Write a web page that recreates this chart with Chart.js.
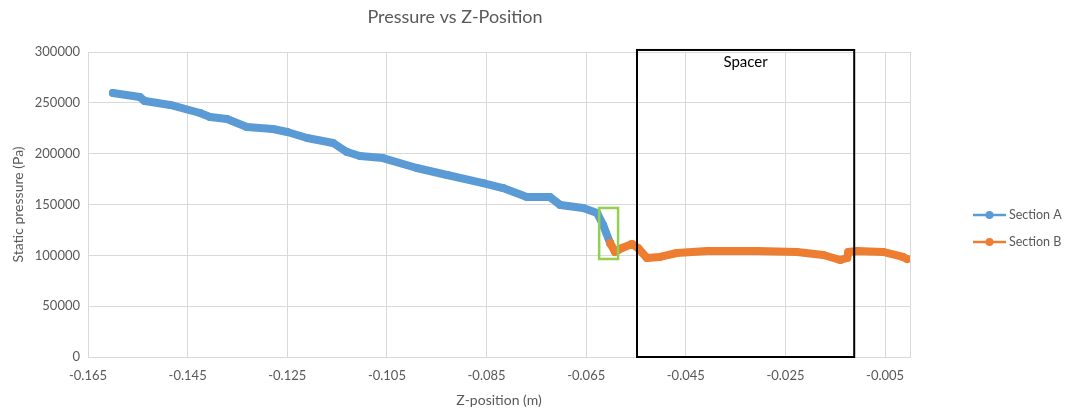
<!DOCTYPE html>
<html>
<head>
<meta charset="utf-8">
<title>Pressure vs Z-Position</title>
<script src="https://cdn.jsdelivr.net/npm/chart.js@4/dist/chart.umd.min.js"></script>
<style>
  html, body { margin: 0; padding: 0; background: #ffffff; }
  #wrap { width: 1070px; height: 412px; }
</style>
</head>
<body>
<div id="wrap"><canvas id="chart" width="1070" height="412"></canvas></div>
<script>
// Section A: upstream part of the channel (z in m, static pressure in Pa)
const sectionAZ = [-0.1600, -0.1546, -0.1536, -0.1485, -0.1425, -0.1405, -0.1371, -0.1331, -0.1279,
  -0.1250, -0.1210, -0.1158, -0.1130, -0.1104, -0.1058, -0.0990, -0.0929, -0.0857, -0.0817,
  -0.0769, -0.0723, -0.0702, -0.0656, -0.0628, -0.0616, -0.0602];
const sectionAP = [259700, 255700, 251800, 247900, 240000, 236100, 234100, 226200, 224300,
  221300, 215400, 210500, 201600, 197700, 195700, 185900, 179000, 171100, 166200,
  157400, 157400, 149500, 146600, 141600, 129800, 112100];

// Section B: through the spacer and beyond
const sectionBZ = [-0.0602, -0.0592, -0.0578, -0.0558, -0.0546, -0.0528, -0.0502, -0.0468, -0.0407,
  -0.0307, -0.0227, -0.0174, -0.0140, -0.0126, -0.0124, -0.0106, -0.0054, -0.0014, -0.0006];
const sectionBP = [112100, 103300, 107200, 111100, 107200, 97400, 98400, 102300, 104300,
  104300, 103300, 100300, 95400, 97400, 103300, 104300, 103300, 98400, 96400];

// Axis ticks
const xTicks = [-0.165, -0.145, -0.125, -0.105, -0.085, -0.065, -0.045, -0.025, -0.005, 0];
const yTicks = [0, 50000, 100000, 150000, 200000, 250000, 300000];

// Highlight regions [zMin, zMax, pMin, pMax]
const spacerRegion = [-0.0548, -0.0112, 0, 302000];
const transitionRegion = [-0.0624, -0.0586, 96400, 146600];

const seriesNames = ['Section A', 'Section B'];
const seriesColors = ['#5B9BD5', '#ED7D31'];

const toPoints = (zs, ps) => zs.map((z, i) => ({ x: z, y: ps[i] }));

const FONT = 'Lato, "Open Sans", sans-serif';
const GREY = '#595959';

const regionsPlugin = {
  id: 'regions',
  afterDatasetsDraw(chart) {
    const { ctx, scales: { x, y } } = chart;
    const box = (r, color, width) => {
      const x0 = x.getPixelForValue(r[0]), x1 = x.getPixelForValue(r[1]);
      const y0 = y.getPixelForValue(r[3]), y1 = y.getPixelForValue(r[2]);
      ctx.save();
      ctx.strokeStyle = color;
      ctx.lineWidth = width;
      ctx.strokeRect(x0, y0, x1 - x0, y1 - y0);
      ctx.restore();
      return { x0, x1, y0, y1 };
    };
    box(transitionRegion, '#92D050', 2.5);
    const s = box(spacerRegion, '#000000', 2);
    ctx.save();
    ctx.fillStyle = '#000000';
    ctx.font = '15px ' + FONT;
    ctx.textAlign = 'center';
    ctx.textBaseline = 'middle';
    ctx.fillText('Spacer', (s.x0 + s.x1) / 2, s.y0 + 12);
    ctx.restore();
  }
};

const sideLegendPlugin = {
  id: 'sideLegend',
  afterDraw(chart) {
    const { ctx } = chart;
    const left = 973, rows = [215, 242];
    chart.data.datasets.forEach((ds, i) => {
      const yy = rows[i];
      ctx.save();
      ctx.strokeStyle = ds.borderColor;
      ctx.lineWidth = 2.5;
      ctx.beginPath();
      ctx.moveTo(left, yy);
      ctx.lineTo(left + 33, yy);
      ctx.stroke();
      ctx.fillStyle = ds.borderColor;
      ctx.beginPath();
      ctx.arc(left + 16.5, yy, 4, 0, Math.PI * 2);
      ctx.fill();
      ctx.fillStyle = GREY;
      ctx.font = '12.5px ' + FONT;
      ctx.textAlign = 'left';
      ctx.textBaseline = 'middle';
      ctx.fillText(ds.label, left + 36, yy);
      ctx.restore();
    });
  }
};

new Chart(document.getElementById('chart'), {
  type: 'line',
  data: {
    datasets: [
      {
        label: seriesNames[0],
        data: toPoints(sectionAZ, sectionAP),
        borderColor: seriesColors[0],
        backgroundColor: seriesColors[0],
        borderWidth: 8,
        pointRadius: 4,
        pointBorderWidth: 0,
        borderCapStyle: 'round',
        borderJoinStyle: 'round',
        order: 1
      },
      {
        label: seriesNames[1],
        data: toPoints(sectionBZ, sectionBP),
        borderColor: seriesColors[1],
        backgroundColor: seriesColors[1],
        borderWidth: 8,
        pointRadius: 4,
        pointBorderWidth: 0,
        borderCapStyle: 'round',
        borderJoinStyle: 'round',
        order: 0
      }
    ]
  },
  options: {
    responsive: false,
    animation: false,
    layout: { padding: { left: 0, right: 160, top: 0, bottom: 0 } },
    plugins: {
      legend: { display: false },
      tooltip: { enabled: false },
      title: {
        display: true,
        text: 'Pressure vs Z-Position',
        color: GREY,
        font: { family: FONT, size: 18, weight: 'normal' },
        padding: { top: 6, bottom: 24.4 }
      }
    },
    scales: {
      x: {
        type: 'linear',
        min: -0.165,
        max: 0,
        afterFit: s => { s.height = 55; },
        afterBuildTicks: s => { s.ticks = xTicks.map(v => ({ value: v })); },
        grid: { color: '#d9d9d9', drawTicks: false },
        border: { color: '#d9d9d9' },
        ticks: {
          color: GREY,
          font: { family: FONT, size: 13 },
          padding: 11,
          maxRotation: 0,
          autoSkip: false,
          callback: v => (v === 0 ? '' : v.toFixed(3))
        },
        title: {
          display: true,
          text: 'Z-position (m)',
          color: GREY,
          font: { family: FONT, size: 14 },
          padding: { top: 0, bottom: 3.5 }
        }
      },
      y: {
        type: 'linear',
        min: 0,
        max: 300000,
        afterFit: s => { s.width = 88; },
        afterBuildTicks: s => { s.ticks = yTicks.map(v => ({ value: v })); },
        grid: { color: '#d9d9d9', drawTicks: false },
        border: { display: false },
        ticks: {
          color: GREY,
          font: { family: FONT, size: 13 },
          padding: 8,
          callback: v => String(v)
        },
        title: {
          display: true,
          text: 'Static pressure (Pa)',
          color: GREY,
          font: { family: FONT, size: 14 },
          padding: { top: 10.5, bottom: 0 }
        }
      }
    }
  },
  plugins: [regionsPlugin, sideLegendPlugin]
});
</script>
</body>
</html>
